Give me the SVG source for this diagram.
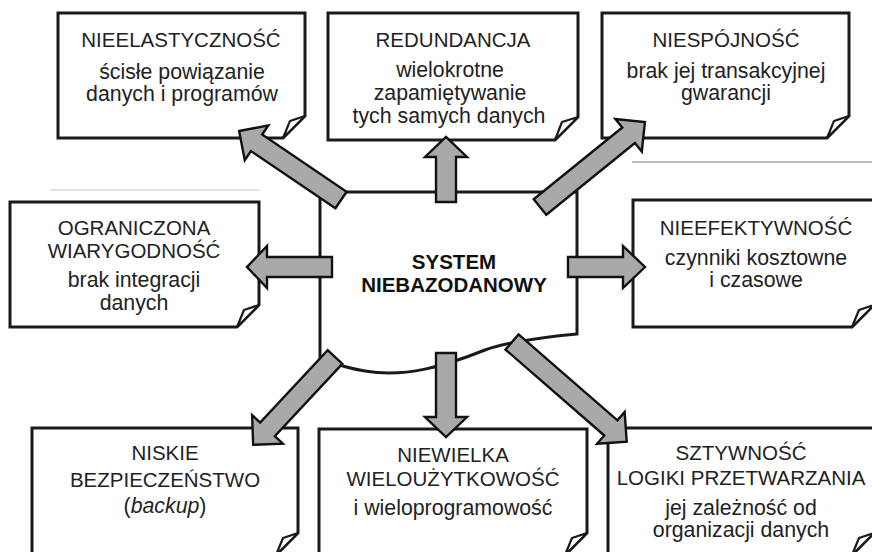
<svg xmlns="http://www.w3.org/2000/svg" width="872" height="552" viewBox="0 0 872 552">
  <defs>
    <style>
      .box { fill: #fff; stroke: #1a1a1a; stroke-width: 3; stroke-linejoin: miter; }
      .fold { fill: #fff; stroke: #1a1a1a; stroke-width: 2.2; stroke-linejoin: round; }
      .core { fill: #fff; stroke: #1a1a1a; stroke-width: 3; }
      .arrow { fill: #a9a9a9; stroke: #111; stroke-width: 2.4; stroke-linejoin: miter; }
      .t { font-family: "Liberation Sans", Arial, Helvetica, sans-serif; font-size: 20.5px; fill: #222; text-anchor: middle; }
      .s { font-size: 21.3px; }
      .b { font-weight: bold; fill: #111; }
      .rule { stroke-width: 1; fill: none; }
    </style>
  </defs>

  <rect width="872" height="552" fill="#fff"/>

  <!-- thin hairlines -->
  <line class="rule" x1="50" y1="190" x2="260" y2="190" stroke="#c4c4c4"/>
  <line class="rule" x1="632" y1="162" x2="872" y2="162" stroke="#777"/>

  <!-- top row -->
  <g id="nieelastycznosc">
    <path class="box" d="M58,13 H305 V116 L283,138 H58 Z"/>
    <path class="fold" d="M305,116 L290,121 L283,138 Z"/>
    <text class="t" x="181" y="47">NIEELASTYCZNOŚĆ</text>
    <text class="t s" x="182" y="79">ścisłe powiązanie</text>
    <text class="t s" x="182" y="101">danych i programów</text>
  </g>

  <g id="redundancja">
    <path class="box" d="M328,13 H578 V117 L555,140 H328 Z"/>
    <path class="fold" d="M578,117 L562,122 L555,140 Z"/>
    <text class="t" x="453" y="47">REDUNDANCJA</text>
    <text class="t s" x="450" y="77">wielokrotne</text>
    <text class="t s" x="450" y="100">zapamiętywanie</text>
    <text class="t s" x="449" y="123">tych samych danych</text>
  </g>

  <g id="niespojnosc">
    <path class="box" d="M602,13 H849 V116 L827,138 H602 Z"/>
    <path class="fold" d="M849,116 L834,121 L827,138 Z"/>
    <text class="t" x="726" y="47">NIESPÓJNOŚĆ</text>
    <text class="t s" x="726" y="78">brak jej transakcyjnej</text>
    <text class="t s" x="726" y="100">gwarancji</text>
  </g>

  <!-- middle row -->
  <g id="ograniczona-wiarygodnosc">
    <path class="box" d="M10,202 H259 V305 L237,327 H10 Z"/>
    <path class="fold" d="M259,305 L244,310 L237,327 Z"/>
    <text class="t" x="134" y="235">OGRANICZONA</text>
    <text class="t" x="134" y="258">WIARYGODNOŚĆ</text>
    <text class="t s" x="134" y="287">brak integracji</text>
    <text class="t s" x="134" y="310">danych</text>
  </g>

  <g id="nieefektywnosc">
    <path class="box" d="M633,200 H874 V305 L852,327 H633 Z"/>
    <path class="fold" d="M874,305 L859,310 L852,327 Z"/>
    <text class="t" x="756" y="235">NIEEFEKTYWNOŚĆ</text>
    <text class="t s" x="756" y="265">czynniki kosztowne</text>
    <text class="t s" x="756" y="287">i czasowe</text>
  </g>

  <!-- bottom row -->
  <g id="niskie-bezpieczenstwo">
    <path class="box" d="M32,428 H298 V533 L276,555 H32 Z"/>
    <path class="fold" d="M298,533 L283,538 L276,555 Z"/>
    <text class="t" x="165" y="460">NISKIE</text>
    <text class="t" x="165" y="487">BEZPIECZEŃSTWO</text>
    <text class="t s" x="165" y="513">(<tspan font-style="italic">backup</tspan>)</text>
  </g>

  <g id="niewielka-wielouzytkowosc">
    <path class="box" d="M319,429 H587 V533 L565,555 H319 Z"/>
    <path class="fold" d="M587,533 L572,538 L565,555 Z"/>
    <text class="t" x="453" y="462">NIEWIELKA</text>
    <text class="t" x="453" y="486">WIELOUŻYTKOWOŚĆ</text>
    <text class="t s" x="453" y="515">i wieloprogramowość</text>
  </g>

  <g id="sztywnosc-logiki">
    <path class="box" d="M608,428 H874 V533 L852,555 H608 Z"/>
    <path class="fold" d="M874,533 L859,538 L852,555 Z"/>
    <text class="t" x="741" y="460">SZTYWNOŚĆ</text>
    <text class="t" x="741" y="485">LOGIKI PRZETWARZANIA</text>
    <text class="t s" x="741" y="515">jej zależność od</text>
    <text class="t s" x="741" y="537">organizacji danych</text>
  </g>

  <!-- central system -->
  <g id="system-niebazodanowy">
    <path class="core" d="M320,192 H577 V334 C545,337 510,341 485,350 C445,366 405,378 365,371 C345,368 330,362 320,358 Z"/>
    <text class="t b" x="454" y="269">SYSTEM</text>
    <text class="t b" x="454" y="292">NIEBAZODANOWY</text>
  </g>

  <!-- block arrows from the centre towards each consequence -->
  <g id="connectors">
    <polygon class="arrow" transform="translate(341,200) rotate(-145.9)" points="0,-10 102,-10 102,-21 123,0 102,21 102,10 0,10"/>
    <polygon class="arrow" transform="translate(446,202) rotate(-90)" points="0,-10 45,-10 45,-21 65,0 45,21 45,10 0,10"/>
    <polygon class="arrow" transform="translate(540,207) rotate(-39)" points="0,-10 114,-10 114,-21 135,0 114,21 114,10 0,10"/>
    <polygon class="arrow" transform="translate(332,267) rotate(180)" points="0,-10 65,-10 65,-21 85,0 65,21 65,10 0,10"/>
    <polygon class="arrow" transform="translate(568,267)" points="0,-10 55,-10 55,-21 77,0 55,21 55,10 0,10"/>
    <polygon class="arrow" transform="translate(335,357) rotate(133)" points="0,-10 99,-10 99,-21 120,0 99,21 99,10 0,10"/>
    <polygon class="arrow" transform="translate(446,353) rotate(90)" points="0,-10 64,-10 64,-21 84,0 64,21 64,10 0,10"/>
    <polygon class="arrow" transform="translate(512,342) rotate(41)" points="0,-10 131,-10 131,-21 152,0 131,21 131,10 0,10"/>
  </g>
</svg>
